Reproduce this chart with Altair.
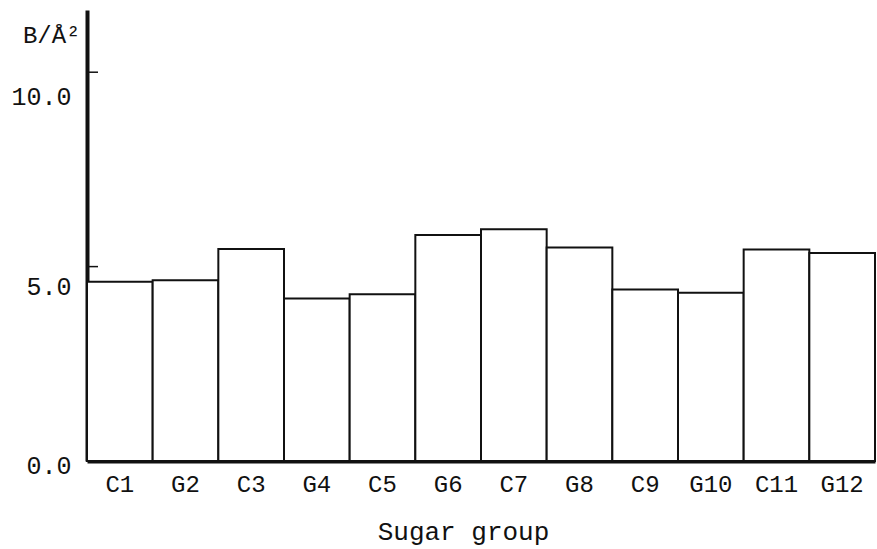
import altair as alt
import pandas as pd

# Mean B-factor per sugar group
groups = ["C1", "G2", "C3", "G4", "C5", "G6", "C7", "G8", "C9", "G10", "C11", "G12"]
b_values = [4.61, 4.65, 5.45, 4.18, 4.29, 5.81, 5.96, 5.49, 4.41, 4.33, 5.44, 5.35]

# Inward tick marks on the value axis
tick_values = [5, 10]
axis_labels = [0, 5, 10]

FONT = "Liberation Mono"
INK = "#111111"

df = pd.DataFrame({"group": groups, "b": b_values})
ticks = pd.DataFrame({"v": tick_values})

y_scale = alt.Scale(domain=[0, 11.6], nice=False, zero=True)

bars = alt.Chart(df).mark_bar(
    fill="white", stroke=INK, strokeWidth=2
).encode(
    x=alt.X(
        "group:N",
        sort=groups,
        scale=alt.Scale(paddingInner=0, paddingOuter=0),
        axis=alt.Axis(
            title="Sugar group",
            titleFont=FONT,
            titleFontSize=26,
            titleFontWeight="normal",
            titleColor=INK,
            titleX=376,
            titleAlign="center",
            titlePadding=22,
            labelFont=FONT,
            labelFontSize=24,
            labelColor=INK,
            labelAngle=0,
            labelPadding=11,
            ticks=False,
            domainWidth=4,
            domainColor=INK,
        ),
    ),
    y=alt.Y(
        "b:Q",
        scale=y_scale,
        axis=alt.Axis(
            values=axis_labels,
            format=".1f",
            title="B/Å²",
            titleAngle=0,
            titleAlign="right",
            titleBaseline="middle",
            titleX=-7,
            titleY=25,
            titleFont=FONT,
            titleFontSize=24,
            titleFontWeight="normal",
            titleColor=INK,
            labelFont=FONT,
            labelFontSize=25,
            labelColor=INK,
            labelPadding=16,
            labelOffset={"expr": "datum.value == 0 ? 4 : (datum.value == 5 ? 20 : 24)"},
            ticks=False,
            domainWidth=4,
            domainColor=INK,
            grid=False,
        ),
    ),
)

tick_marks = alt.Chart(ticks).mark_rule(color=INK, strokeWidth=1.5).encode(
    y=alt.Y("v:Q", scale=y_scale),
    x=alt.value(0),
    x2=alt.value(11),
)

chart = alt.layer(bars, tick_marks).properties(
    width=788,
    height=451,
    padding={"left": 87, "top": 10, "right": 2, "bottom": 88},
    autosize=alt.AutoSizeParams(type="none"),
).configure(background="white").configure_view(stroke=None)

chart.save("out.html", embed_options={"renderer": "svg", "actions": False})
